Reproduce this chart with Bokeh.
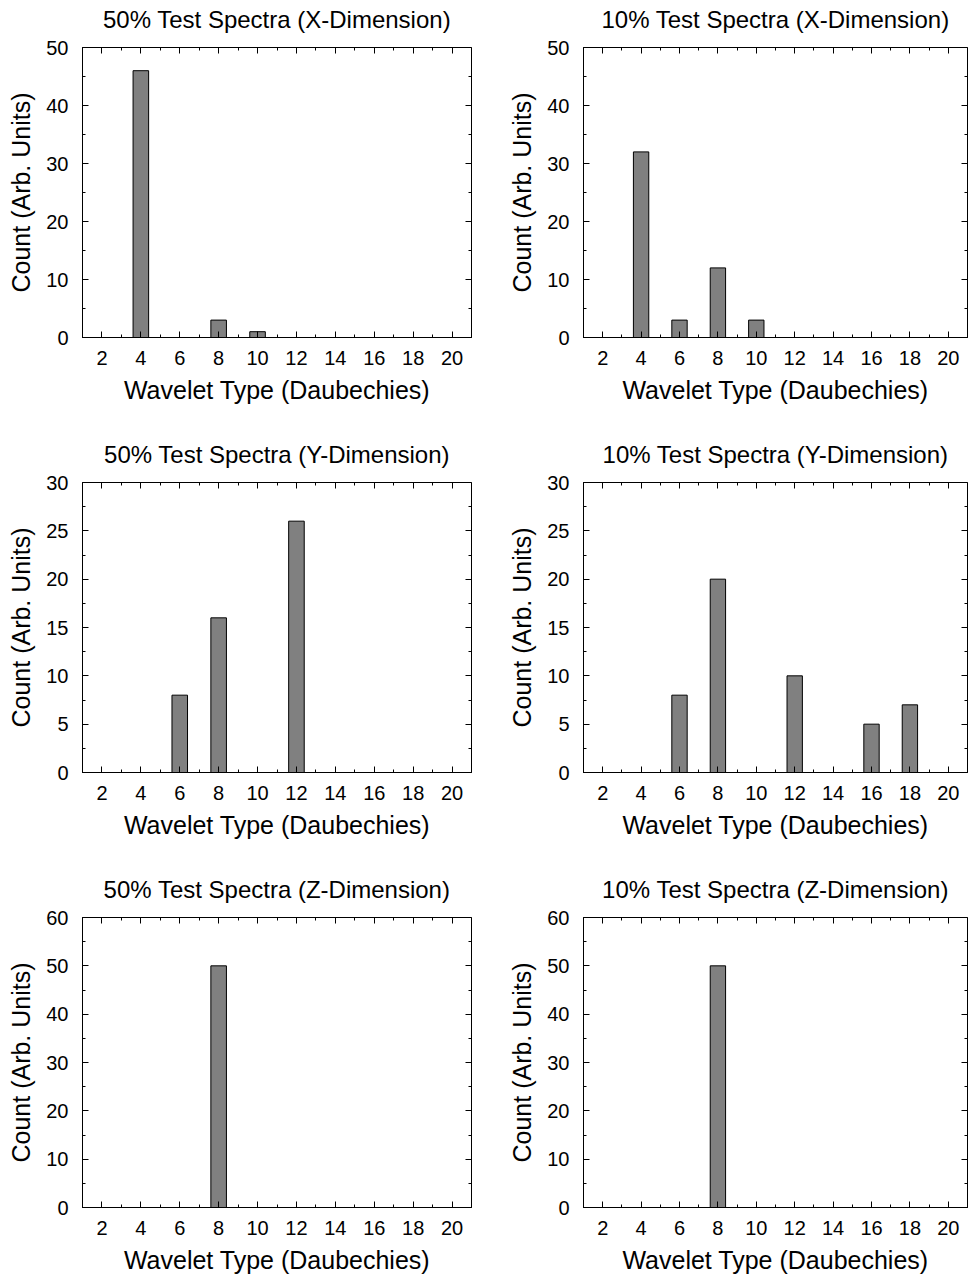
from bokeh.plotting import figure
from bokeh.layouts import column, row
from bokeh.models import Range1d, LinearAxis, SingleIntervalTicker, FixedTicker
from bokeh.embed import file_html
from bokeh.resources import INLINE

# Daubechies wavelet orders tested
wavelet_types = [2, 4, 6, 8, 10, 12, 14, 16, 18, 20]

# Counts of best-performing wavelet per test set and dimension
counts_50_x = [0, 46, 0, 3, 1, 0, 0, 0, 0, 0]
counts_10_x = [0, 32, 3, 12, 3, 0, 0, 0, 0, 0]
counts_50_y = [0, 0, 8, 16, 0, 26, 0, 0, 0, 0]
counts_10_y = [0, 0, 8, 20, 0, 10, 0, 5, 7, 0]
counts_50_z = [0, 0, 0, 50, 0, 0, 0, 0, 0, 0]
counts_10_z = [0, 0, 0, 50, 0, 0, 0, 0, 0, 0]

titles = [
    ["50% Test Spectra (X-Dimension)", "10% Test Spectra (X-Dimension)"],
    ["50% Test Spectra (Y-Dimension)", "10% Test Spectra (Y-Dimension)"],
    ["50% Test Spectra (Z-Dimension)", "10% Test Spectra (Z-Dimension)"],
]
series = [
    [counts_50_x, counts_10_x],
    [counts_50_y, counts_10_y],
    [counts_50_z, counts_10_z],
]
y_max = [50, 30, 60]
y_step = [10, 5, 10]

X_LABEL = "Wavelet Type (Daubechies)"
Y_LABEL = "Count (Arb. Units)"
FONT = "Liberation Sans"

X_LO, X_HI = 1, 21
FRAME_H = 290
TOP_BORDER = 60
BOTTOM_BORDERS = [85, 85, 72]
PAGE_SHIFT = -13  # pulls the grid up so the spare title room sits above the page

MAJOR_LEN = 6
MINOR_LEN = 3


def style_axis(ax):
    ax.axis_line_color = "black"
    ax.axis_line_width = 1
    ax.major_tick_line_color = "black"
    ax.minor_tick_line_color = "black"
    ax.major_tick_in = MAJOR_LEN
    ax.major_tick_out = 0
    ax.minor_tick_in = MINOR_LEN
    ax.minor_tick_out = 0
    ax.major_label_text_font = FONT
    ax.major_label_text_font_size = "20px"
    ax.major_label_text_color = "black"
    ax.axis_label_text_font = FONT
    ax.axis_label_text_font_style = "normal"
    ax.axis_label_text_color = "black"
    ax.axis_label_text_font_size = "25px"


def mirror_axis(p, side, positions, length):
    # unlabeled axis that only draws inward tick marks on the opposite side
    ax = LinearAxis(ticker=FixedTicker(ticks=[], minor_ticks=positions))
    ax.axis_line_color = None
    ax.major_tick_line_color = None
    ax.minor_tick_line_color = "black"
    ax.minor_tick_in = length
    ax.minor_tick_out = 0
    ax.major_label_standoff = 0
    ax.axis_label = None
    p.add_layout(ax, side)


def make_panel(title, counts, ymax, ystep, col, r):
    left = col == 0
    width = 481 if left else 487
    p = figure(
        width=width,
        height=TOP_BORDER + FRAME_H + BOTTOM_BORDERS[r],
        x_range=Range1d(X_LO, X_HI),
        y_range=Range1d(0, ymax),
        output_backend="svg",
        toolbar_location=None,
        min_border_left=82 if left else 102,
        min_border_right=10 if left else 1,
        min_border_top=TOP_BORDER,
        min_border_bottom=BOTTOM_BORDERS[r],
        x_axis_label=X_LABEL,
        y_axis_label=Y_LABEL,
        title=title,
    )
    p.background_fill_color = "white"
    p.border_fill_color = "white"
    p.outline_line_color = "black"
    p.outline_line_width = 1
    p.xgrid.visible = False
    p.ygrid.visible = False

    p.title.text_font = FONT
    p.title.text_font_size = "24px"
    p.title.text_font_style = "normal"
    p.title.text_color = "black"
    p.title.align = "center"
    p.title.standoff = 30

    xa = p.xaxis[0]
    xa.ticker = SingleIntervalTicker(interval=2, num_minor_ticks=2)
    style_axis(xa)
    xa.major_label_standoff = 13
    xa.axis_label_standoff = 8

    ya = p.yaxis[0]
    ya.ticker = SingleIntervalTicker(interval=ystep, num_minor_ticks=2)
    style_axis(ya)
    ya.major_label_standoff = 14
    ya.axis_label_standoff = 8

    x_major = list(wavelet_types)
    x_minor = [w + 1 for w in wavelet_types[:-1]]
    y_major = list(range(0, ymax + 1, ystep))
    y_minor = [v + ystep / 2 for v in y_major[:-1]]

    mirror_axis(p, "above", x_major, MAJOR_LEN)
    mirror_axis(p, "above", x_minor, MINOR_LEN)
    mirror_axis(p, "right", y_major, MAJOR_LEN)
    mirror_axis(p, "right", y_minor, MINOR_LEN)

    p.vbar(
        x=wavelet_types,
        top=counts,
        bottom=0,
        width=0.8,
        fill_color="#808080",
        line_color="black",
        line_width=1,
    )
    return p


rows = []
for r in range(3):
    panels = [
        make_panel(titles[r][c], series[r][c], y_max[r], y_step[r], c, r)
        for c in range(2)
    ]
    rows.append(row(*panels))

layout = column(*rows, margin=(PAGE_SHIFT, 0, 0, 0))

open("out.html", "w").write(file_html(layout, INLINE))
